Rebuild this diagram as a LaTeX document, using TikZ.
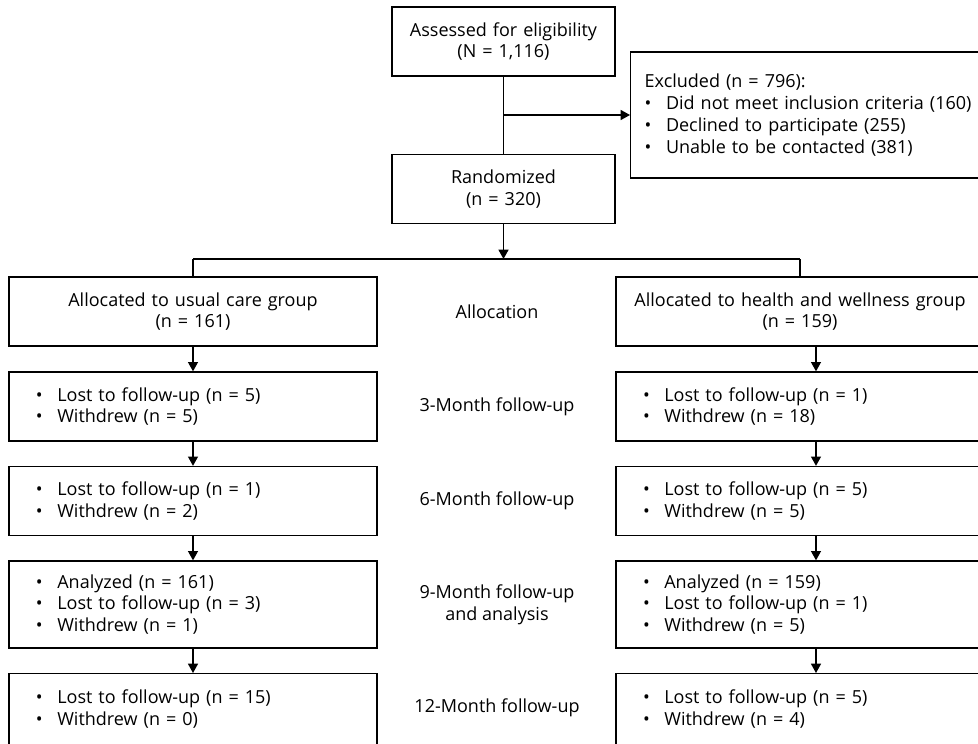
\documentclass[tikz,border=0pt]{standalone}
\usepackage{fontspec}
\setmainfont{Open Sans}
\usetikzlibrary{arrows.meta}
\newcommand\bul{\makebox[16pt][l]{\textbullet}}
\tikzset{
	txt/.style={font=\fontsize{13.5}{16.3}\selectfont},
	plainbox/.style={txt, draw, line width=1pt, rectangle, inner xsep=0pt, inner ysep=0pt, align=center, minimum height=51.75pt},
	topbox/.style={plainbox, text width=167.25pt},
	groupbox/.style={plainbox, text width=276pt},
	listbox/.style={plainbox, text width=235.5pt, inner xsep=20.25pt, align=left},
	exclbox/.style={plainbox, text width=270pt, inner xsep=10.5pt, align=left, minimum height=94.5pt},
	midlabel/.style={txt, align=center},
	link/.style={line width=1pt},
	flow/.style={line width=1pt, -{Triangle[width=7.5pt,length=7pt]}}
}

\begin{document}
\begin{tikzpicture}[x=0.75pt, y=-0.75pt]
	%%%%% FRAME %%%%%
	\useasboundingbox (0,0) rectangle (978,743);
	\clip (0,0) rectangle (978,743);
	
	%%%%% ENROLMENT %%%%%
	\node[topbox] (assess) at (503.5,41.5) {Assessed for eligibility\\(N = 1,116)};
	\node[topbox] (rand) at (503.5,189) {Randomized\\(n = 320)};
	\node[exclbox, anchor=west] (excl) at (630,115) {Excluded (n = 796):\\
		\bul Did not meet inclusion criteria (160)\\
		\bul Declined to participate (255)\\
		\bul Unable to be contacted (381)};
	
	%%%%% USUAL CARE %%%%%
	\node[groupbox] (usual) at (193,311.5) {Allocated to usual care group\\(n = 161)};
	\node[listbox] (u3) at (193,406.5) {\bul Lost to follow-up (n = 5)\\\bul Withdrew (n = 5)};
	\node[listbox] (u6) at (193,501) {\bul Lost to follow-up (n = 1)\\\bul Withdrew (n = 2)};
	\node[listbox, minimum height=65.25pt] (u9) at (193,604.5) {\bul Analyzed (n = 161)\\\bul Lost to follow-up (n = 3)\\\bul Withdrew (n = 1)};
	\node[listbox, minimum height=53pt] (u12) at (193,709) {\bul Lost to follow-up (n = 15)\\\bul Withdrew (n = 0)};
	
	%%%%% HEALTH AND WELLNESS %%%%%
	\node[groupbox] (well) at (800,311.5) {Allocated to health and wellness group\\(n = 159)};
	\node[listbox] (w3) at (800,406.5) {\bul Lost to follow-up (n = 1)\\\bul Withdrew (n = 18)};
	\node[listbox] (w6) at (800,501) {\bul Lost to follow-up (n = 5)\\\bul Withdrew (n = 5)};
	\node[listbox, minimum height=65.25pt] (w9) at (800,604.5) {\bul Analyzed (n = 159)\\\bul Lost to follow-up (n = 1)\\\bul Withdrew (n = 5)};
	\node[listbox, minimum height=53pt] (w12) at (800,709) {\bul Lost to follow-up (n = 5)\\\bul Withdrew (n = 4)};
	
	%%%%% STAGES %%%%%
	\node[midlabel] (alloc) at (497,311.5) {Allocation};
	\node[midlabel] (m3) at (497,406.5) {3-Month follow-up};
	\node[midlabel] (m6) at (497,501) {6-Month follow-up};
	\node[midlabel] (m9) at (497,604.5) {9-Month follow-up\\and analysis};
	\node[midlabel] (m12) at (497,708) {12-Month follow-up};
	
	%%%%% CONNECTORS %%%%%
	\coordinate (split) at (assess.south |- excl.west);
	\coordinate (fork) at (503.5,259);
	\draw[link] (assess) -- (rand);
	\draw[flow] (split) -- (excl.west);
	\draw[flow] (rand) -- (fork);
	\draw[link] (fork -| usual) -- (fork -| well);
	\draw[link] (fork -| usual) -- (usual);
	\draw[link] (fork -| well) -- (well);
	
	\foreach \a/\b in {usual/u3, u3/u6, u6/u9, u9/u12}
		\draw[flow] (\a) -- (\b);
	\foreach \a/\b in {well/w3, w3/w6, w6/w9, w9/w12}
		\draw[flow] ([xshift=12pt]\a.south) -- ([xshift=12pt]\b.north);
	
\end{tikzpicture}
\end{document}
